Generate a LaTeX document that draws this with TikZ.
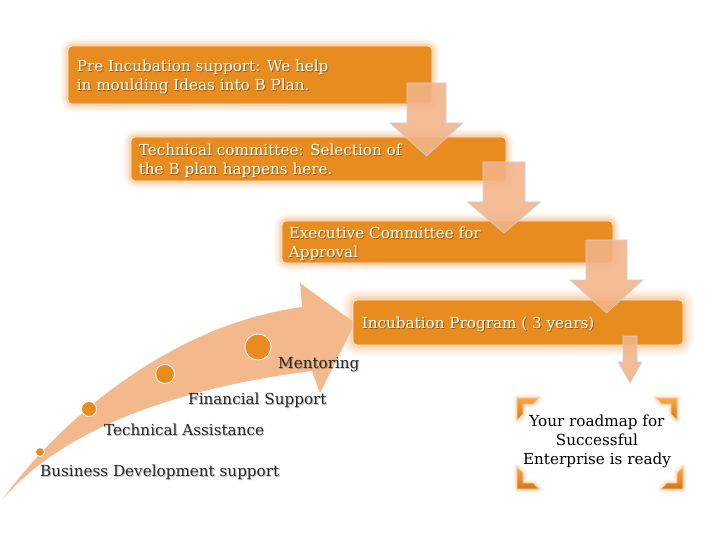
\documentclass[tikz,border=0pt]{standalone}
\usepackage{fontspec}
\setmainfont{DejaVu Serif}
\pgfdeclarelayer{bg}
\pgfdeclarelayer{glow}
\pgfsetlayers{bg,glow,main}
\definecolor{boxor}{HTML}{E98C1F}
\definecolor{arrowor}{HTML}{F2B387}
\definecolor{curveor}{HTML}{F3B88C}
\definecolor{glowor}{HTML}{F6A860}
\definecolor{arrowedge}{HTML}{C9D2DE}
\definecolor{darktxt}{HTML}{262626}
\definecolor{bracketlight}{HTML}{F8A848}
\definecolor{bracketdark}{HTML}{D87410}
\tikzset{
  obox/.style={draw=white!85!boxor, line width=0.8pt, fill=boxor, rounded corners=4pt, inner sep=0pt},
  btxt/.style={text=white, font=\fontsize{15.2}{19}\selectfont, align=left, inner sep=0pt, anchor=west},
  btxtsh/.style={text=black, opacity=0.35, font=\fontsize{15.2}{19}\selectfont, align=left, inner sep=0pt, anchor=west},
  ltxt/.style={text=darktxt, font=\fontsize{15.2}{19}\selectfont, align=left, inner sep=0pt, anchor=west},
  ltxtsh/.style={text=black, opacity=0.25, font=\fontsize{15.2}{19}\selectfont, align=left, inner sep=0pt, anchor=west},
  blockarrow/.style={fill=arrowor, fill opacity=0.88, draw=arrowedge, line width=0.6pt},
  dot/.style={circle, fill=boxor, draw=white, line width=0.8pt, inner sep=0pt},
  bracket/.style={top color=bracketlight, bottom color=bracketdark, draw=glowor!60, line width=0.6pt}
}
\newcommand\glowaround[2]{% node name, strength
  \begin{pgfonlayer}{glow}
  \foreach \w/\o in {14/0.07,11/0.09,8/0.11,5/0.15,2.5/0.22}{
    \draw[glowor, line width=#2*\w pt, opacity=\o, rounded corners=6pt] (#1.south west) rectangle (#1.north east);
  }
  \end{pgfonlayer}}
\newcommand\blockdown[6]{% cx, top, shaft half, head y, head half, tip y
  \draw[blockarrow] (#1-#3,#2) -- (#1+#3,#2) -- (#1+#3,#4) -- (#1+#5,#4) -- (#1,#6) -- (#1-#5,#4) -- (#1-#3,#4) -- cycle;}
\begin{document}
\begin{tikzpicture}[x=1pt,y=-1pt]
\useasboundingbox (0,0) rectangle (720,540);
\begin{pgfonlayer}{bg}
\fill[white] (0,0) rectangle (720,540);
\end{pgfonlayer}

% curved arrow
\fill[curveor] (2,500) .. controls (60,420) and (170,325) .. (302,307)
  -- (300,283) -- (355,323) -- (320,393) -- (312,371)
  .. controls (200,385) and (70,420) .. (2,500) -- cycle;

% dots
\node[dot, minimum size=9pt] (c1) at (40,452) {};
\node[dot, minimum size=15pt] (c2) at (89,409) {};
\node[dot, minimum size=19pt] (c3) at (165,374) {};
\node[dot, minimum size=26pt] (c4) at (258,347) {};

% labels
\node[ltxtsh] (l1s) at (41,473) {Business Development support};
\node[ltxt] (l1) at (40,472) {Business Development support};
\node[ltxtsh] (l2s) at (105,431) {Technical Assistance};
\node[ltxt] (l2) at (104,430) {Technical Assistance};
\node[ltxtsh] (l3s) at (189,401) {Financial Support};
\node[ltxt] (l3) at (188,400) {Financial Support};
\node[ltxtsh] (l4s) at (279,366) {Mentoring};
\node[ltxt] (l4) at (278,365) {Mentoring};

% boxes
\node[obox, minimum width=364pt, minimum height=58pt] (b1) at (250,75) {};
\node[obox, minimum width=375pt, minimum height=44pt] (b2) at (318.5,159) {};
\node[obox, minimum width=331pt, minimum height=42pt] (b3) at (447.5,242) {};
\node[obox, minimum width=330pt, minimum height=45pt] (b4) at (518,322.5) {};
\glowaround{b1}{1}
\glowaround{b2}{1}
\glowaround{b3}{1}
\glowaround{b4}{1.5}

\node[btxtsh] (t1s) at ([xshift=10pt,yshift=-3pt]b1.west) {Pre Incubation support: We help\\in moulding Ideas into B Plan.};
\node[btxt] (t1) at ([xshift=9pt,yshift=-2pt]b1.west) {Pre Incubation support: We help\\in moulding Ideas into B Plan.};
\node[btxtsh] (t2s) at ([xshift=9pt,yshift=-3pt]b2.west) {Technical committee: Selection of\\the B plan happens here.};
\node[btxt] (t2) at ([xshift=8pt,yshift=-2pt]b2.west) {Technical committee: Selection of\\the B plan happens here.};
\node[btxtsh] (t3s) at ([xshift=8pt,yshift=-3pt]b3.west) {Executive Committee for\\Approval};
\node[btxt] (t3) at ([xshift=7pt,yshift=-2pt]b3.west) {Executive Committee for\\Approval};
\node[btxtsh] (t4s) at ([xshift=10pt,yshift=-3pt]b4.west) {Incubation Program ( 3 years)};
\node[btxt] (t4) at ([xshift=9pt,yshift=-2pt]b4.west) {Incubation Program ( 3 years)};

% block arrows
\blockdown{426.5}{83}{19.5}{123}{36.5}{156}
\blockdown{504}{162}{21}{202}{36.5}{233}
\blockdown{606.5}{240}{20.5}{280}{36.5}{313}
\blockdown{630}{336}{7}{362}{12}{383}

% brackets
\begin{pgfonlayer}{glow}
\foreach \w/\o in {8/0.08,5/0.12,2.5/0.2}{
  \draw[glowor, line width=\w pt, opacity=\o, line join=round] (517,398) -- (539,398) -- (533,404) -- (523,404) -- (523,414) -- (517,420) -- cycle;
  \draw[glowor, line width=\w pt, opacity=\o, line join=round] (656,398) -- (677,398) -- (677,420) -- (671,414) -- (671,404) -- (662,404) -- cycle;
  \draw[glowor, line width=\w pt, opacity=\o, line join=round] (517,467) -- (523,473) -- (523,483) -- (533,483) -- (539,489) -- (517,489) -- cycle;
  \draw[glowor, line width=\w pt, opacity=\o, line join=round] (683,467) -- (683,489) -- (661,489) -- (667,483) -- (677,483) -- (677,473) -- cycle;
}
\end{pgfonlayer}
\shade[bracket] (517,398) -- (539,398) -- (533,404) -- (523,404) -- (523,414) -- (517,420) -- cycle;
\shade[bracket] (656,398) -- (677,398) -- (677,420) -- (671,414) -- (671,404) -- (662,404) -- cycle;
\shade[bracket] (517,467) -- (523,473) -- (523,483) -- (533,483) -- (539,489) -- (517,489) -- cycle;
\shade[bracket] (683,467) -- (683,489) -- (661,489) -- (667,483) -- (677,483) -- (677,473) -- cycle;

\node[text=black, font=\fontsize{15.2}{19}\selectfont, align=center, inner sep=0pt] (fin) at (597,441) {Your roadmap for\\Successful\\Enterprise is ready};
\end{tikzpicture}
\end{document}
